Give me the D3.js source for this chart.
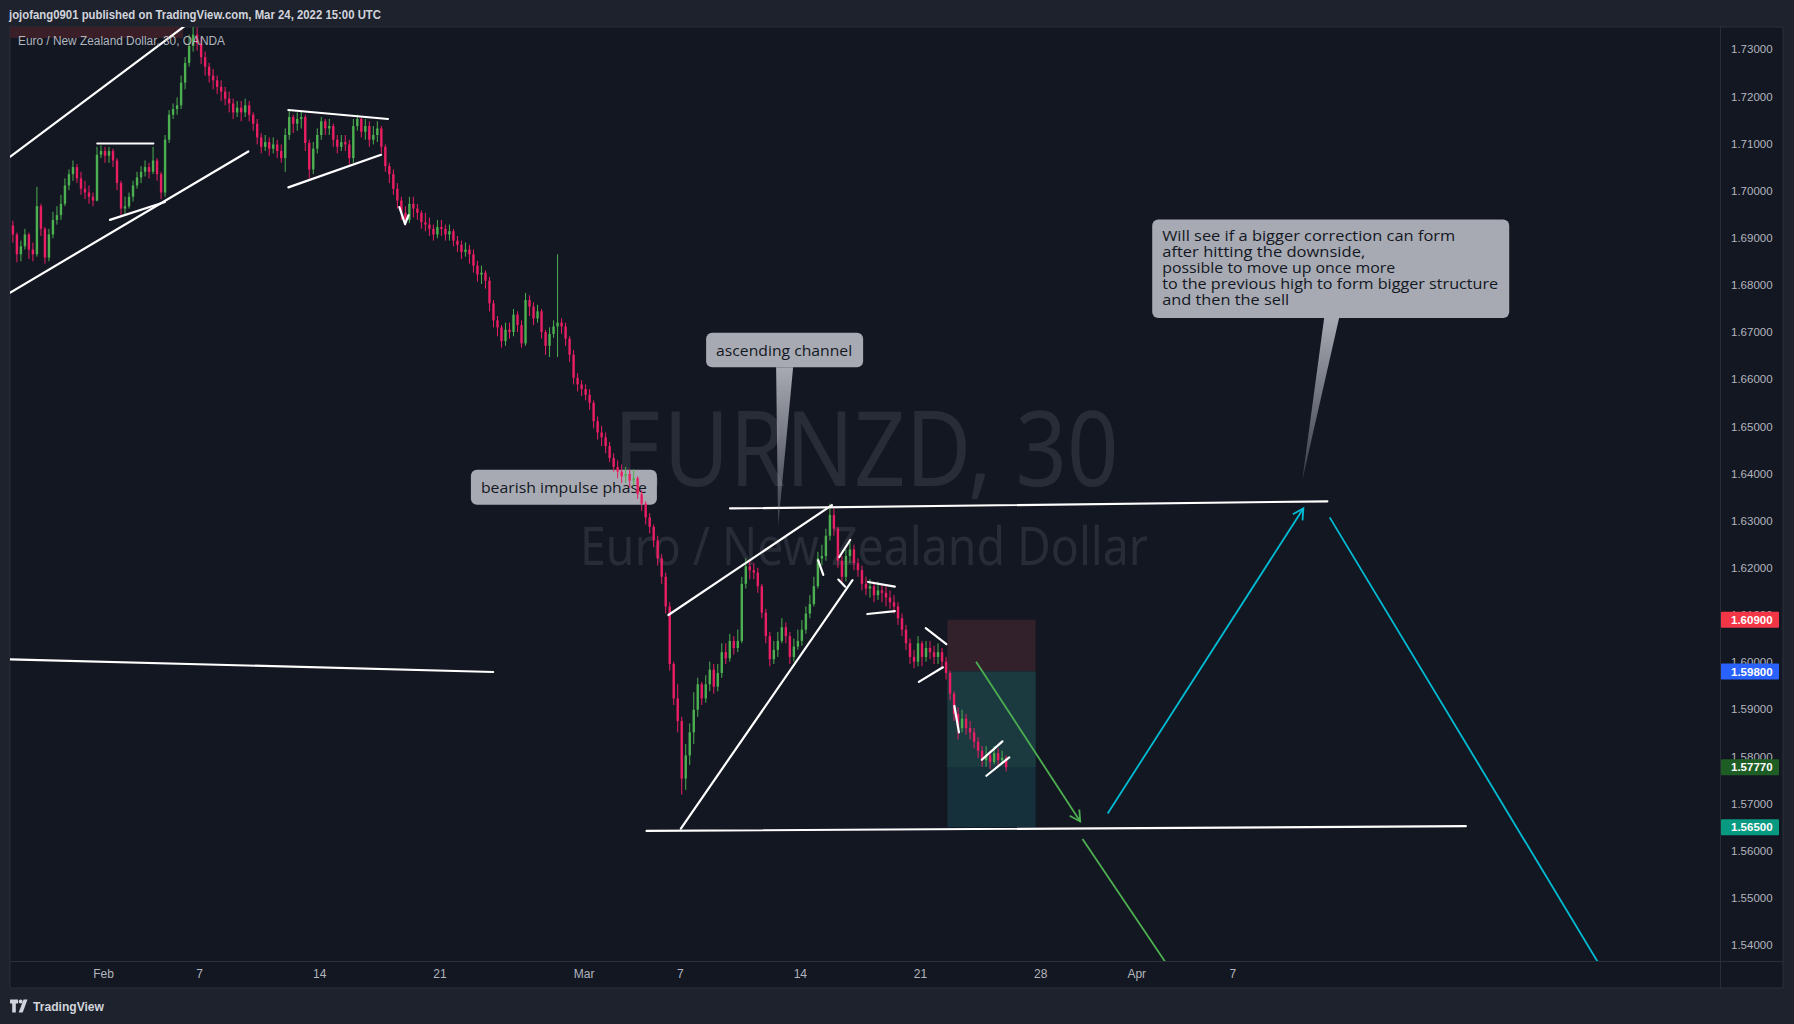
<!DOCTYPE html>
<html><head><meta charset="utf-8">
<script src="https://cdn.jsdelivr.net/npm/d3@7"></script>
<style>
html,body{margin:0;padding:0;background:#1e222d;overflow:hidden;}
svg{display:block;}
</style></head><body>
<svg id="c" width="1794" height="1024"></svg>
<script>
// ---------------- DATA ----------------
const headerText = "jojofang0901 published on TradingView.com, Mar 24, 2022 15:00 UTC";
const symbolText = "Euro / New Zealand Dollar, 30, OANDA";
const watermarkMain = "EURNZD, 30";
const watermarkSub = "Euro / New Zealand Dollar";

// trading-day index: 0 = Feb 1 2022 (weekends removed)
const timeTickDays   = [0, 4, 9, 14, 20, 24, 29, 34, 39, 43, 47];
const timeTickLabels = ["Feb","7","14","21","Mar","7","14","21","28","Apr","7"];
const priceTicks = [1.54,1.55,1.56,1.57,1.58,1.59,1.60,1.61,1.62,1.63,1.64,1.65,1.66,1.67,1.68,1.69,1.70,1.71,1.72,1.73];

// 4-hour candles starting Jan 26 04:00 UTC
const firstBarDay = -23/6;
const barsPerDay = 6;
const firstOpen = 1.6926;
const closes = [
1.6907,1.6865,1.6882,1.6907,1.6875,1.6865,1.6967,1.6919,1.6858,1.6907,
1.6938,1.6948,1.6972,1.7011,1.7035,1.7050,1.7026,1.7004,1.6996,1.6987,
1.6979,1.7076,1.7084,1.7074,1.7084,1.7064,1.7016,1.6962,1.6967,1.6987,
1.7011,1.7028,1.7040,1.7050,1.7040,1.7064,1.7035,1.6996,1.7108,1.7161,
1.7173,1.7181,1.7229,1.7271,1.7307,1.7331,1.7312,1.7283,1.7263,1.7244,
1.7234,1.7220,1.7210,1.7195,1.7185,1.7166,1.7176,1.7166,1.7181,1.7161,
1.7142,1.7113,1.7093,1.7103,1.7089,1.7098,1.7084,1.7069,1.7118,1.7156,
1.7142,1.7152,1.7156,1.7101,1.7045,1.7089,1.7118,1.7147,1.7132,1.7137,
1.7108,1.7093,1.7103,1.7098,1.7069,1.7137,1.7152,1.7125,1.7137,1.7108,
1.7118,1.7132,1.7093,1.7052,1.7035,1.7004,1.6979,1.6953,1.6938,1.6972,
1.6962,1.6953,1.6933,1.6928,1.6919,1.6907,1.6923,1.6919,1.6907,1.6914,
1.6894,1.6885,1.6870,1.6875,1.6865,1.6841,1.6822,1.6826,1.6809,1.6761,
1.6725,1.6710,1.6681,1.6705,1.6700,1.6737,1.6715,1.6676,1.6768,1.6754,
1.6729,1.6744,1.6700,1.6671,1.6696,1.6712,1.6720,1.6712,1.6686,1.6652,
1.6603,1.6589,1.6579,1.6567,1.6550,1.6511,1.6487,1.6477,1.6458,1.6433,
1.6414,1.6404,1.6394,1.6399,1.6385,1.6390,1.6356,1.6336,1.6307,1.6287,
1.6258,1.6220,1.6181,1.6118,1.5996,1.5923,1.5875,1.5753,1.5802,1.5851,
1.5899,1.5953,1.5923,1.5953,1.5984,1.5948,1.5977,1.6021,1.6008,1.6045,
1.6030,1.6045,1.6166,1.6203,1.6195,1.6190,1.6161,1.6105,1.6055,1.6006,
1.6026,1.6045,1.6074,1.6055,1.6011,1.6033,1.6045,1.6069,1.6103,1.6123,
1.6161,1.6220,1.6225,1.6268,1.6312,1.6283,1.6215,1.6181,1.6225,1.6239,
1.6210,1.6195,1.6166,1.6156,1.6161,1.6142,1.6152,1.6147,1.6137,1.6127,
1.6118,1.6093,1.6069,1.6040,1.6011,1.6001,1.6040,1.6011,1.6030,1.6021,
1.6011,1.6021,1.6001,1.5977,1.5933,1.5890,1.5860,1.5880,1.5860,1.5851,
1.5831,1.5812,1.5792,1.5802,1.5788,1.5807,1.5792,1.5797,1.5777];
const highs = [
1.6936,1.6911,1.6894,1.6919,1.6911,1.6890,1.7008,1.6972,1.6923,1.6919,
1.6955,1.6967,1.6991,1.7026,1.7045,1.7064,1.7057,1.7040,1.7021,1.7011,
1.6996,1.7093,1.7096,1.7093,1.7093,1.7089,1.7069,1.7021,1.6987,1.6996,
1.7021,1.7040,1.7052,1.7064,1.7059,1.7093,1.7069,1.7040,1.7118,1.7171,
1.7185,1.7198,1.7244,1.7283,1.7331,1.7351,1.7346,1.7326,1.7295,1.7271,
1.7258,1.7244,1.7234,1.7220,1.7210,1.7195,1.7190,1.7190,1.7195,1.7190,
1.7166,1.7152,1.7122,1.7118,1.7113,1.7113,1.7108,1.7098,1.7132,1.7171,
1.7161,1.7166,1.7171,1.7161,1.7108,1.7103,1.7132,1.7156,1.7152,1.7152,
1.7142,1.7118,1.7118,1.7118,1.7108,1.7152,1.7161,1.7156,1.7152,1.7147,
1.7137,1.7147,1.7137,1.7098,1.7059,1.7045,1.7016,1.6987,1.6967,1.6987,
1.6987,1.6972,1.6958,1.6953,1.6943,1.6928,1.6938,1.6938,1.6928,1.6928,
1.6919,1.6904,1.6894,1.6890,1.6885,1.6875,1.6851,1.6841,1.6831,1.6817,
1.6768,1.6734,1.6715,1.6720,1.6720,1.6749,1.6744,1.6725,1.6783,1.6778,
1.6763,1.6758,1.6749,1.6705,1.6710,1.6725,1.6865,1.6729,1.6720,1.6691,
1.6662,1.6613,1.6598,1.6589,1.6579,1.6555,1.6521,1.6501,1.6487,1.6467,
1.6443,1.6428,1.6419,1.6414,1.6409,1.6409,1.6394,1.6365,1.6341,1.6316,
1.6292,1.6268,1.6229,1.6190,1.6127,1.6001,1.5953,1.5884,1.5826,1.5870,
1.5936,1.5967,1.5958,1.5972,1.6001,1.5996,1.5996,1.6040,1.6040,1.6060,
1.6055,1.6069,1.6181,1.6220,1.6215,1.6210,1.6200,1.6166,1.6113,1.6064,
1.6045,1.6064,1.6093,1.6084,1.6064,1.6050,1.6069,1.6089,1.6118,1.6142,
1.6181,1.6234,1.6249,1.6283,1.6336,1.6326,1.6287,1.6225,1.6239,1.6254,
1.6249,1.6220,1.6205,1.6181,1.6176,1.6171,1.6171,1.6166,1.6161,1.6152,
1.6142,1.6127,1.6103,1.6079,1.6050,1.6026,1.6055,1.6045,1.6045,1.6045,
1.6035,1.6040,1.6030,1.6011,1.5982,1.5938,1.5904,1.5899,1.5890,1.5875,
1.5860,1.5841,1.5822,1.5822,1.5812,1.5822,1.5817,1.5812,1.5802];
const lows = [
1.6890,1.6848,1.6850,1.6875,1.6855,1.6850,1.6860,1.6904,1.6845,1.6850,
1.6899,1.6928,1.6938,1.6967,1.7001,1.7021,1.7016,1.6991,1.6982,1.6972,
1.6967,1.6977,1.7069,1.7059,1.7059,1.7050,1.7001,1.6948,1.6950,1.6962,
1.6977,1.7004,1.7016,1.7030,1.7026,1.7035,1.7021,1.6982,1.6987,1.7101,
1.7152,1.7161,1.7173,1.7215,1.7263,1.7295,1.7297,1.7268,1.7244,1.7229,
1.7215,1.7205,1.7190,1.7181,1.7166,1.7152,1.7156,1.7147,1.7156,1.7147,
1.7127,1.7098,1.7079,1.7084,1.7074,1.7079,1.7069,1.7059,1.7040,1.7108,
1.7122,1.7127,1.7132,1.7084,1.7026,1.7035,1.7079,1.7108,1.7118,1.7118,
1.7093,1.7079,1.7084,1.7084,1.7055,1.7059,1.7127,1.7113,1.7108,1.7093,
1.7098,1.7103,1.7079,1.7040,1.7016,1.6991,1.6962,1.6938,1.6926,1.6931,
1.6943,1.6938,1.6919,1.6914,1.6904,1.6894,1.6899,1.6904,1.6894,1.6894,
1.6882,1.6870,1.6855,1.6860,1.6845,1.6826,1.6807,1.6802,1.6792,1.6744,
1.6710,1.6691,1.6667,1.6671,1.6686,1.6691,1.6700,1.6667,1.6671,1.6734,
1.6715,1.6720,1.6686,1.6652,1.6647,1.6688,1.6647,1.6696,1.6671,1.6637,
1.6589,1.6574,1.6564,1.6555,1.6535,1.6496,1.6472,1.6458,1.6443,1.6424,
1.6404,1.6390,1.6380,1.6380,1.6370,1.6375,1.6346,1.6321,1.6292,1.6273,
1.6244,1.6205,1.6166,1.6103,1.5982,1.5909,1.5851,1.5719,1.5729,1.5782,
1.5826,1.5884,1.5909,1.5914,1.5938,1.5933,1.5938,1.5967,1.5996,1.6001,
1.6016,1.6021,1.6040,1.6156,1.6176,1.6176,1.6147,1.6093,1.6040,1.5991,
1.5996,1.6011,1.6040,1.6040,1.5996,1.6001,1.6026,1.6035,1.6060,1.6093,
1.6118,1.6156,1.6205,1.6215,1.6258,1.6268,1.6200,1.6166,1.6171,1.6210,
1.6195,1.6181,1.6152,1.6142,1.6137,1.6127,1.6132,1.6127,1.6118,1.6113,
1.6103,1.6079,1.6055,1.6026,1.5996,1.5987,1.5991,1.5991,1.6001,1.6006,
1.5996,1.5996,1.5987,1.5963,1.5919,1.5875,1.5836,1.5851,1.5846,1.5836,
1.5817,1.5797,1.5778,1.5778,1.5773,1.5783,1.5778,1.5783,1.5768];

// drawn trend lines: [trading-day, price]
const trendLines = [
 [[-3.857,1.7072],[3.5,1.7353]],
 [[-3.857,1.6784],[6.048,1.7083]],
 [[-0.238,1.7100],[2.095,1.7100]],
 [[0.290,1.6938],[2.581,1.6976]],
 [[7.714,1.7171],[11.857,1.7152]],
 [[7.714,1.7007],[11.571,1.7076]],
 [[12.333,1.6965],[12.571,1.6929],[12.714,1.6948]],
 [[-3.857,1.6006],[16.238,1.5979]],
 [[22.619,1.5642],[56.714,1.5652]],
 [[24.048,1.5647],[31.190,1.6174]],
 [[23.529,1.6100],[30.333,1.6333]],
 [[26.095,1.6326],[50.952,1.6341]],
 [[29.762,1.6216],[29.976,1.6185]],
 [[30.640,1.6223],[31.095,1.6259]],
 [[30.600,1.6175],[30.886,1.6160]],
 [[31.838,1.6170],[32.952,1.6160]],
 [[31.810,1.6102],[32.952,1.6108]],
 [[34.238,1.6072],[35.095,1.6038]],
 [[33.952,1.5958],[34.952,1.5989]],
 [[35.430,1.5907],[35.620,1.5851]],
 [[36.571,1.5793],[37.429,1.5832]],
 [[36.762,1.5759],[37.714,1.5798]]
];
const greenArrow = [[36.333,1.6001],[40.667,1.5662]];
const greenLine  = [[40.762,1.5625],[44.762,1.5322]];
const cyanArrow  = [[41.810,1.5679],[49.952,1.6326]];
const cyanLine   = [[51.048,1.6307],[62.619,1.5329]];

// short position tool
const posStart = 35.14, posEnd = 38.81;
const posStop = 1.609, posEntry = 1.598, posTarget = 1.565, lastPrice = 1.5777;
const priceMarks = [1.609, 1.598, 1.5777, 1.565];

// callouts
const impulseText = ["bearish impulse phase"];
const channelText = ["ascending channel"];
const planText = ["Will see if a bigger correction can form","after hitting the downside,","possible to move up once more","to the previous high to form bigger structure","and then the sell"];
const channelTip = [28.095, 1.6288];
const planTip = [49.905, 1.6385];
const impulseAnchor = [19.18, 1.6371];

// ---------------- DRAW ----------------
const svg = d3.select("#c");
const paneL=10, paneT=27, paneR=1720, paneB=961, frameR=1783, frameB=988;
const x = d3.scaleLinear().domain([0,43]).range([103, 103+43*24.03]);
const y = d3.scaleLinear().domain([1.54,1.73]).range([945,49.2]);

const defs = svg.append("defs");
defs.append("clipPath").attr("id","pc").append("rect")
  .attr("x",paneL).attr("y",paneT).attr("width",paneR-paneL).attr("height",paneB-paneT);
const g1 = defs.append("linearGradient").attr("id","tailg").attr("x1",0).attr("y1",0).attr("x2",0).attr("y2",1);
g1.append("stop").attr("offset","0%").attr("stop-color","#a7aab3").attr("stop-opacity",1);
g1.append("stop").attr("offset","100%").attr("stop-color","#a7aab3").attr("stop-opacity",0.25);

svg.append("rect").attr("width",1794).attr("height",1024).attr("fill","#1e222d");
svg.append("rect").attr("x",paneL).attr("y",paneT).attr("width",frameR-paneL).attr("height",frameB-paneT)
  .attr("fill","#131722").attr("stroke","#2a2e39").attr("stroke-width",1);

// header
svg.append("text").attr("x",9).attr("y",19).text(headerText)
  .attr("font-family","'Liberation Sans', Arial, sans-serif").attr("font-size",12.5).attr("font-weight","bold")
  .attr("fill","#d1d4dc").attr("textLength",372).attr("lengthAdjust","spacingAndGlyphs");

const pane = svg.append("g").attr("clip-path","url(#pc)");
pane.append("rect").attr("x",paneL).attr("y",paneT).attr("width",173).attr("height",11).attr("fill","#3a1e28");

// watermark
pane.append("text").attr("x",866).attr("y",486).attr("text-anchor","middle").text(watermarkMain)
  .attr("font-family","'Noto Sans', sans-serif").attr("font-size",104).attr("fill","#282c37")
  .attr("textLength",505).attr("lengthAdjust","spacingAndGlyphs");
pane.append("text").attr("x",864).attr("y",565).attr("text-anchor","middle").text(watermarkSub)
  .attr("font-family","'Noto Sans', sans-serif").attr("font-size",52).attr("fill","#282c37")
  .attr("textLength",568).attr("lengthAdjust","spacingAndGlyphs");

// callout helper
const calloutFont = "'Open Sans', 'Noto Sans', sans-serif";
function callout(box, lines, widths, tail){
  const g = pane.append("g");
  if(tail){
    g.append("path").attr("d",`M${tail[0][0]},${tail[0][1]}L${tail[1][0]},${tail[1][1]}L${tail[2][0]},${tail[2][1]}Z`).attr("fill","url(#tailg)");
  }
  g.append("rect").attr("x",box[0]).attr("y",box[1]).attr("width",box[2]).attr("height",box[3]).attr("rx",6).attr("fill","#a7aab3");
  lines.forEach((t,i)=>{
    g.append("text").attr("x",box[0]+10).attr("y",box[1]+ (lines.length===1 ? box[3]/2 : 16+16*i))
      .attr("dominant-baseline","central").text(t)
      .attr("font-family",calloutFont).attr("font-size",14).attr("fill","#131722")
      .attr("textLength",widths[i]).attr("lengthAdjust","spacingAndGlyphs");
  });
}
// impulse callout sits beneath the candles (as in the reference)
const ia = [x(impulseAnchor[0]), y(impulseAnchor[1])];
callout([ia[0]-93, ia[1]-17.5, 186, 35], impulseText, [166], null);

// position tool
const px0 = x(posStart), px1 = x(posEnd);
pane.append("rect").attr("x",px0).attr("y",y(posStop)).attr("width",px1-px0).attr("height",y(posEntry)-y(posStop)).attr("fill","#32202a");
pane.append("rect").attr("x",px0).attr("y",y(posEntry)).attr("width",px1-px0).attr("height",y(posTarget)-y(posEntry)).attr("fill","#15303a");
pane.append("rect").attr("x",px0).attr("y",y(posEntry)).attr("width",px1-px0).attr("height",y(lastPrice)-y(posEntry)).attr("fill","#1a3a40");

// candles
const candles = closes.map((c,i)=>{
  const o = i===0 ? firstOpen : closes[i-1];
  return {t: firstBarDay + i/barsPerDay, o, c, h: Math.max(highs[i],o,c), l: Math.min(lows[i],o,c)};
});
const barStep = x(1/barsPerDay) - x(0);
const bodyW = 2.4;
const cg = pane.append("g");
candles.forEach(d=>{
  const cx = x(d.t) + barStep/2;
  const col = d.c >= d.o ? "#4caf50" : "#e91e63";
  cg.append("line").attr("x1",cx).attr("x2",cx).attr("y1",y(d.h)).attr("y2",y(d.l)).attr("stroke",col).attr("stroke-width",1);
  const yt = y(Math.max(d.o,d.c)), yb = y(Math.min(d.o,d.c));
  cg.append("rect").attr("x",cx-bodyW/2).attr("y",yt).attr("width",bodyW).attr("height",Math.max(1,yb-yt)).attr("fill",col);
});

// trend lines
const line = d3.line().x(d=>x(d[0])).y(d=>y(d[1]));
pane.selectAll(".tl").data(trendLines).enter().append("path").attr("class","tl")
  .attr("d",line).attr("fill","none").attr("stroke","#ffffff").attr("stroke-width",2.2)
  .attr("stroke-linecap","round").attr("stroke-linejoin","round");

function drawArrow(pts, color, head){
  pane.append("path").attr("d",line(pts)).attr("fill","none").attr("stroke",color).attr("stroke-width",1.8);
  if(head){
    const a = pts[pts.length-2], b = pts[pts.length-1];
    const ax=x(a[0]), ay=y(a[1]), bx=x(b[0]), by=y(b[1]);
    const ang = Math.atan2(by-ay, bx-ax);
    const L = 12, sp = 0.5;
    const p1=[bx-L*Math.cos(ang-sp), by-L*Math.sin(ang-sp)];
    const p2=[bx-L*Math.cos(ang+sp), by-L*Math.sin(ang+sp)];
    pane.append("path").attr("d",`M${p1[0]},${p1[1]}L${bx},${by}L${p2[0]},${p2[1]}`)
      .attr("fill","none").attr("stroke",color).attr("stroke-width",1.8).attr("stroke-linejoin","miter");
  }
}
drawArrow(greenArrow,"#4caf50",true);
drawArrow(greenLine,"#4caf50",false);
drawArrow(cyanArrow,"#00bcd4",true);
drawArrow(cyanLine,"#00bcd4",false);

// other callouts
const ct = [x(channelTip[0]), y(channelTip[1])];
callout([ct[0]-72, ct[1]-193.5, 157, 34.5], channelText, [136], [[ct[0]-2, ct[1]-159],[ct[0]+15, ct[1]-159],[ct[0], ct[1]]]);
const pt = [x(planTip[0]), y(planTip[1])];
callout([pt[0]-150, pt[1]-261, 357, 98.5], planText, [293,203,233,336,127], [[pt[0]+22, pt[1]-163],[pt[0]+37, pt[1]-163],[pt[0], pt[1]]]);

// axes frame lines
svg.append("line").attr("x1",paneR+0.5).attr("x2",paneR+0.5).attr("y1",paneT).attr("y2",frameB).attr("stroke","#2a2e39");
svg.append("line").attr("x1",paneL).attr("x2",frameR).attr("y1",paneB+0.5).attr("y2",paneB+0.5).attr("stroke","#2a2e39");

// price axis
const axisFont = "'Liberation Sans', Arial, sans-serif";
const ya = svg.append("g").attr("transform",`translate(${paneR},0)`)
  .call(d3.axisRight(y).tickValues(priceTicks).tickSize(0).tickPadding(11).tickFormat(d3.format(".5f")));
ya.select(".domain").remove();
ya.selectAll("text").attr("fill","#b2b5be").attr("font-family",axisFont).attr("font-size",11.5);

// time axis
const xa = svg.append("g").attr("transform",`translate(0,${paneB})`)
  .call(d3.axisBottom(x).tickValues(timeTickDays).tickSize(0).tickPadding(8).tickFormat((d,i)=>timeTickLabels[i]));
xa.select(".domain").remove();
xa.selectAll("text").attr("fill","#b2b5be").attr("font-family",axisFont).attr("font-size",12);

// price marks
const markColors = ["#f23645","#2962ff","#1e5e24","#089981"];
priceMarks.forEach((p,i)=>{
  const yy = y(p);
  svg.append("rect").attr("x",paneR+1).attr("y",yy-8).attr("width",58).attr("height",16).attr("fill",markColors[i]).attr("rx",1);
  svg.append("text").attr("x",paneR+11).attr("y",yy).attr("dominant-baseline","central").text(d3.format(".5f")(p))
    .attr("fill","#ffffff").attr("font-family",axisFont).attr("font-size",11.5).attr("font-weight","bold");
});

// symbol legend
svg.append("text").attr("x",18).attr("y",45).text(symbolText)
  .attr("font-family",axisFont).attr("font-size",12).attr("fill","#b2b5be")
  .attr("textLength",207).attr("lengthAdjust","spacingAndGlyphs");

// footer logo
const lg = svg.append("g").attr("fill","#d1d4dc");
lg.append("path").attr("d","M10,999.5h8v4h-2.2v9h-3.6v-9h-2.2z");
lg.append("circle").attr("cx",20.6).attr("cy",1001.5).attr("r",2);
lg.append("path").attr("d","M23.5,999.5h4l-4.8,13h-4z");
svg.append("text").attr("x",33).attr("y",1011).text("TradingView")
  .attr("font-family",axisFont).attr("font-size",13).attr("font-weight","bold").attr("fill","#d1d4dc")
  .attr("textLength",71).attr("lengthAdjust","spacingAndGlyphs");
</script>
</body></html>
